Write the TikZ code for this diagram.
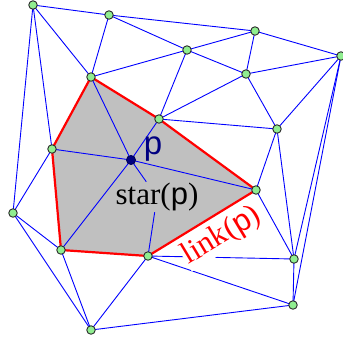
\documentclass[tikz,border=0pt]{standalone}
\usepackage{fontspec}
\setmainfont{Liberation Serif}
\setsansfont{Liberation Sans}
\usepackage{tikz}
\usetikzlibrary{backgrounds}
\definecolor{vertgreen}{RGB}{144,238,144}
\definecolor{vertrim}{RGB}{45,45,45}
\definecolor{stargrey}{RGB}{192,192,192}
\definecolor{pnavy}{RGB}{0,0,128}
\tikzset{
  vert/.style={
    circle,
    fill=vertgreen,
    draw=vertrim,
    line width=0.9pt,
    minimum size=8.5pt,
    inner sep=0pt
  },
  pvert/.style={vert, fill=pnavy, draw=pnavy!70!black, minimum size=9pt},
  mesh/.style={draw=blue, line width=0.9pt},
  linkline/.style={draw=red, line width=2.2pt, line join=round},
  bigtext/.style={font=\fontsize{31}{31}\selectfont, inner sep=1pt}
}

\begin{document}
\begin{tikzpicture}[x=1pt,y=-1pt]
  \useasboundingbox (0,0) rectangle (343,341);

  % mesh vertices
  \node[vert] (a) at (33,5) {};
  \node[vert] (b) at (109,15) {};
  \node[vert] (c) at (187,50) {};
  \node[vert] (d) at (255,31) {};
  \node[vert] (e) at (246,74) {};
  \node[vert] (f) at (341,56) {};
  \node[vert] (g) at (91,77) {};
  \node[vert] (h) at (159,119) {};
  \node[vert] (i) at (52,149) {};
  \node[pvert] (p) at (131,160) {};
  \node[vert] (j) at (277,129) {};
  \node[vert] (k) at (256,190) {};
  \node[vert] (l) at (13,213) {};
  \node[vert] (m) at (61,250) {};
  \node[vert] (n) at (148,256) {};
  \node[vert] (o) at (294,259) {};
  \node[vert] (q) at (293,305) {};
  \node[vert] (r) at (91,330) {};

  \node[bigtext, text=pnavy, font=\fontsize{33}{33}\selectfont] (plabel)
    at (153,149) {\textsf{p}};
  \node[bigtext, fill=stargrey] (starlabel) at (157,197) {star(\textsf{p})};
  \node[bigtext, text=red, fill=white, rotate=31] (linklabel) at (222,236)
    {link(\textsf{p})};

  \begin{scope}[on background layer]
    % star of p
    \fill[stargrey] (g.center) -- (h.center) -- (k.center) -- (n.center)
      -- (m.center) -- (i.center) -- cycle;

    \foreach \s/\t in {a/b,a/g,a/i,a/l,b/d,b/c,b/g,c/d,c/e,c/g,c/h,
        d/e,d/f,e/f,e/h,e/j,f/j,f/o,f/q,j/h,j/k,j/o,k/o,k/p,o/q,o/n,
        n/q,n/r,m/p,m/l,m/r,l/i,l/r,r/q,i/p,g/p,h/p}
      \draw[mesh] (\s.center) -- (\t.center);
    \draw[mesh] (p.center) -- (starlabel);
    \draw[mesh] (starlabel) -- (n.center);

    % link of p
    \draw[linkline] (g.center) -- (h.center) -- (k.center) -- (n.center)
      -- (m.center) -- (i.center) -- cycle;
  \end{scope}
\end{tikzpicture}
\end{document}
